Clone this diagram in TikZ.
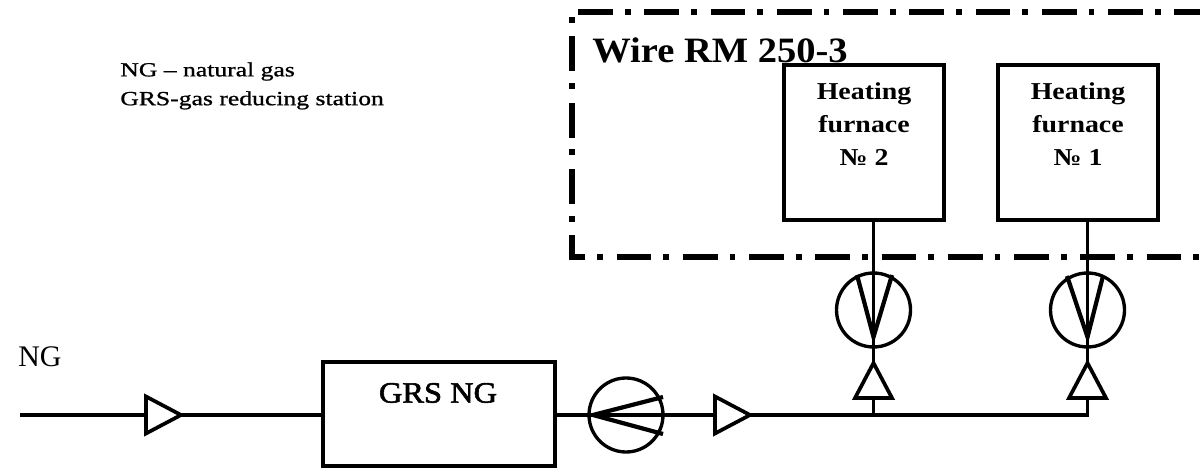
\documentclass[tikz,border=0pt]{standalone}
\usepackage{fontspec}
\setmainfont{Liberation Serif}
\newfontfamily\legendfont[FakeStretch=1.28,FakeBold=1]{Liberation Serif}
\newfontfamily\furnacefont[FakeStretch=1.15,BoldFont={Liberation Serif Bold}]{Liberation Serif}
\newfontfamily\wirefont[FakeStretch=1.08]{Liberation Serif}
\newfontfamily\grsfont[FakeStretch=1.1,FakeBold=2]{Liberation Serif}
\usetikzlibrary{shapes.geometric,calc}
\tikzset{
  pipe/.style={line width=2pt},
  spoke/.style={line width=2.4pt},
  frameline/.style={line width=3pt,dash pattern=on 3.4pt off 7.7pt on 19.8pt off 6.8pt},
  furnace/.style={draw,line width=2.8pt,minimum width=3.2cm,minimum height=3.1cm,inner sep=0pt,outer sep=0pt},
  station/.style={draw,line width=2.8pt,minimum width=4.64cm,minimum height=2.08cm,inner sep=0pt,outer sep=0pt},
  meter/.style={draw,circle,line width=1.9pt,minimum size=1.48cm,inner sep=0pt,outer sep=0pt},
  valve/.style={draw,isosceles triangle,isosceles triangle stretches,line width=2.1pt,minimum width=0.74cm,minimum height=0.7cm,inner sep=0pt,outer sep=0pt,anchor=lower side},
  boldtext/.style={font=\fontsize{13.8}{19}\furnacefont\bfseries,align=center},
  legendtext/.style={font=\fontsize{11.4}{16.4}\legendfont,align=left,anchor=west}
}
\begin{document}
\begin{tikzpicture}
 \useasboundingbox (0,0) rectangle (24,9.36);
 % frame of the wire mill
 \coordinate (frametop) at (11.56,9.12);
 \coordinate (framecorner) at (24.2,9.12);
 \coordinate (frameleft) at (11.44,9.02);
 \coordinate (framelow) at (11.44,4.22);
 \coordinate (frameright) at (24.2,4.22);
 \draw[frameline,dash phase=11.1pt] (frametop) -- (framecorner);
 \draw[frameline] (frameleft) -- (framelow) -- (frameright);
 \node[font=\fontsize{20.3}{24}\wirefont\bfseries,anchor=west,inner sep=0pt] (wirelabel) at (11.84,8.36) {Wire RM 250-3};
 % furnaces
 \node[furnace] (furnace2) at (17.28,6.51) {};
 \node[furnace] (furnace1) at (21.56,6.51) {};
 \node[boldtext] (furnacetext2) at (17.28,6.88) {Heating\\furnace\\№ 2};
 \node[boldtext] (furnacetext1) at (21.56,6.88) {Heating\\furnace\\№ 1};
 % legend
 \node[legendtext,inner sep=0pt] (legend) at (2.4,7.64) {NG – natural gas\\GRS-gas reducing station};
 \node[font=\fontsize{17}{20}\selectfont,anchor=west,inner sep=0pt] (inlabel) at (0.36,2.22) {NG};
 % gas line
 \coordinate (inlet) at (0.4,1.06);
 \node[station] (grs) at (8.78,1.08) {};
 \node[font=\fontsize{16.8}{20}\grsfont,inner sep=0pt] (grslabel) at (8.76,1.5) {GRS NG};
 \node[meter] (meter0) at (12.52,1.06) {};
 \node[meter] (meter2) at (17.47,3.16) {};
 \node[meter] (meter1) at (21.75,3.16) {};
 \node[valve] (valve0) at (2.92,1.06) {};
 \node[valve] (valve3) at (14.3,1.06) {};
 \node[valve,shape border rotate=90] (valve2) at (17.47,1.4) {};
 \node[valve,shape border rotate=90] (valve1) at (21.75,1.4) {};
 \draw[pipe] (inlet) -- (valve0.lower side);
 \draw[pipe] (valve0.apex) -- (grs.west |- valve0.apex);
 \draw[pipe] (grs.east |- valve0.apex) -- (valve3.lower side);
 \draw[pipe] (valve3.apex) -- (valve1.lower side |- valve3.apex) -- (valve1.lower side);
 \draw[pipe] (valve2.lower side) -- (valve2.lower side |- valve3.apex);
 \draw[pipe] (valve2.apex) -- (meter2 |- furnace2.south);
 \draw[pipe] (valve1.apex) -- (meter1 |- furnace1.south);
 % spokes of the meters
 \coordinate (hub0) at (11.86,1.06);
 \coordinate (hub2) at (17.47,2.62);
 \coordinate (hub1) at (21.75,2.62);
 \draw[spoke] (13.26,1.42) -- (hub0) -- (13.26,0.68);
 \draw[spoke] (17.14,3.86) -- (hub2) -- (17.84,3.86);
 \draw[spoke] (21.34,3.84) -- (hub1) -- (22.06,3.84);
\end{tikzpicture}
\end{document}
